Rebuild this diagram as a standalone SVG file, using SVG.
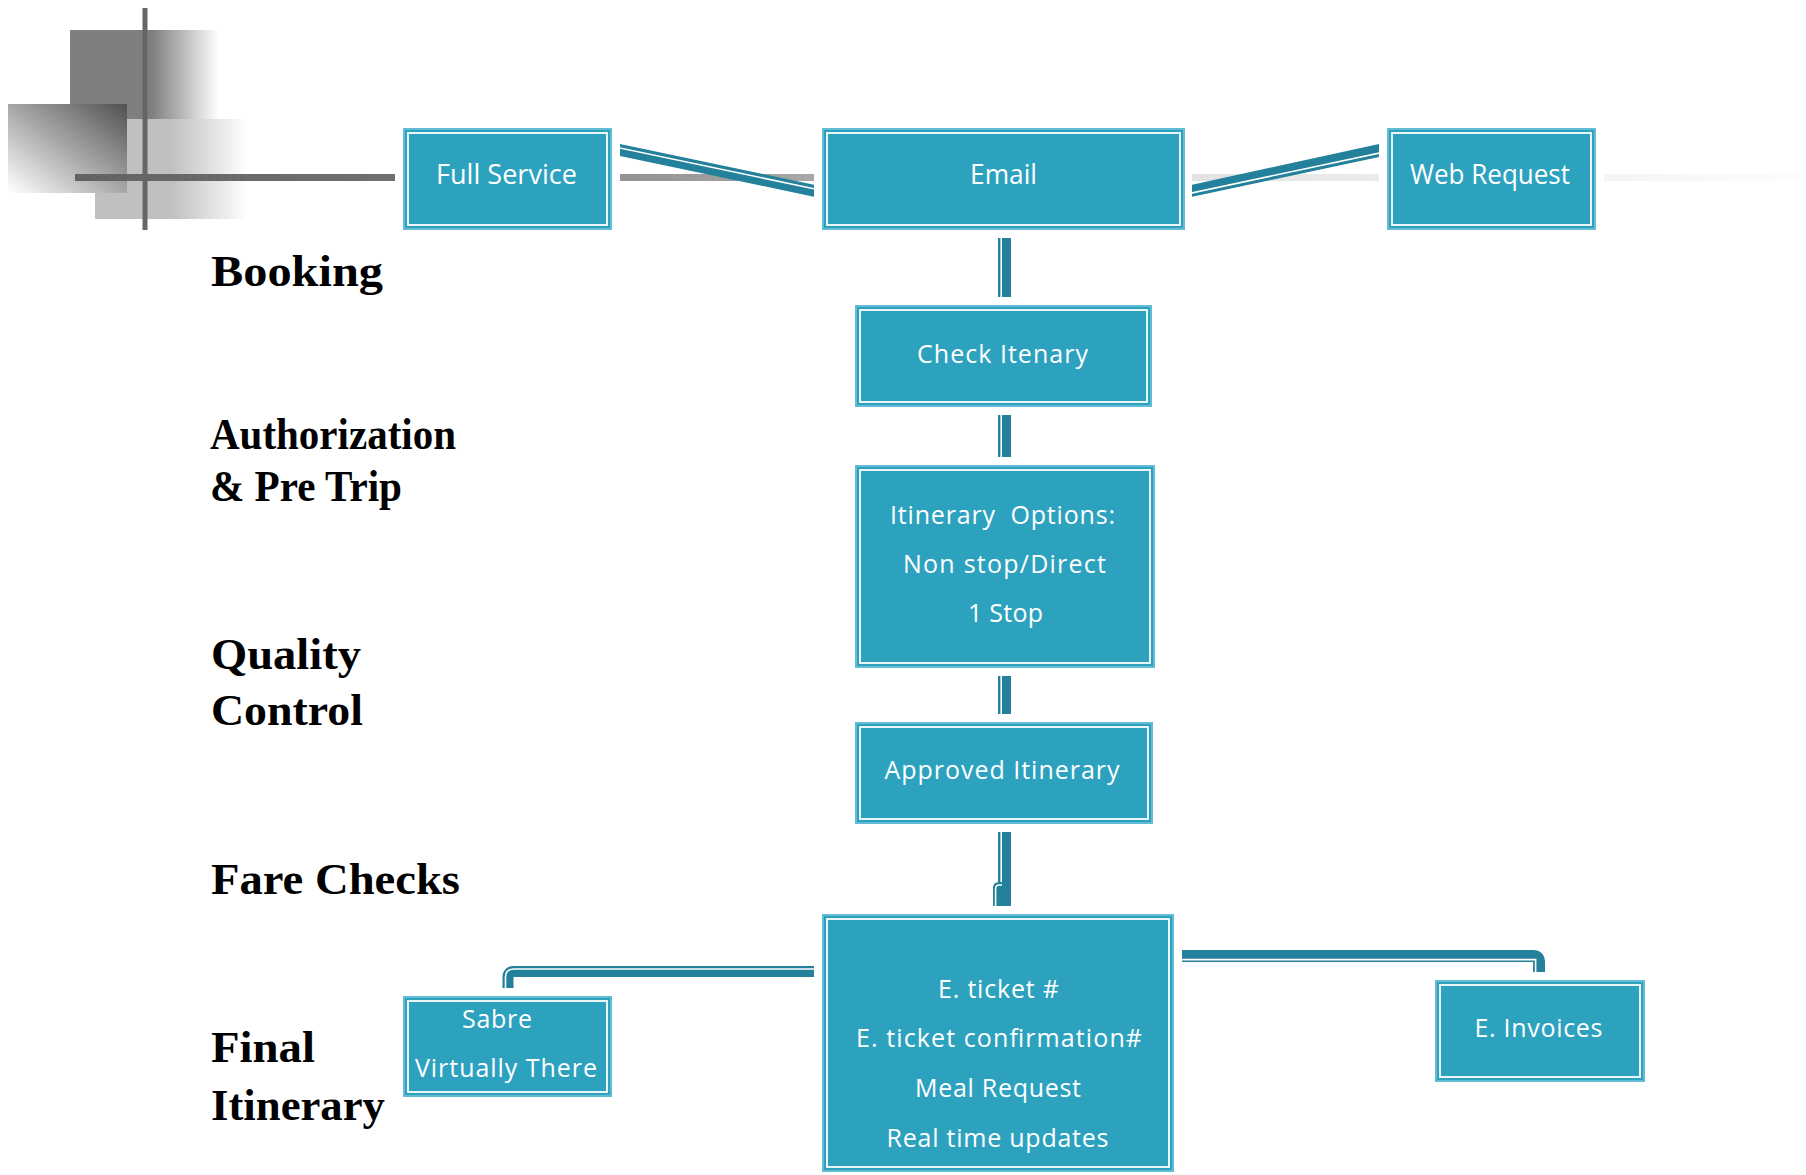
<svg xmlns="http://www.w3.org/2000/svg" width="1806" height="1175" viewBox="0 0 1806 1175">
<defs>
<linearGradient id="gDark" x1="0" y1="0" x2="1" y2="0"><stop offset="0" stop-color="#7f7f7f"/><stop offset="0.55" stop-color="#7f7f7f"/><stop offset="1" stop-color="#ffffff"/></linearGradient>
<linearGradient id="gLight" x1="0" y1="0" x2="1" y2="0"><stop offset="0" stop-color="#c0c0c0"/><stop offset="0.5" stop-color="#c0c0c0"/><stop offset="1" stop-color="#ffffff"/></linearGradient>
<linearGradient id="gDiag" x1="1" y1="0" x2="0" y2="1"><stop offset="0" stop-color="#505050"/><stop offset="1" stop-color="#ffffff"/></linearGradient>
<linearGradient id="gLine" gradientUnits="userSpaceOnUse" x1="75" y1="0" x2="1806" y2="0">
<stop offset="0" stop-color="#636363"/><stop offset="0.185" stop-color="#707070"/><stop offset="0.315" stop-color="#939393"/><stop offset="0.43" stop-color="#a9a9a9"/><stop offset="0.645" stop-color="#e2e2e2"/><stop offset="0.754" stop-color="#ececec"/><stop offset="0.88" stop-color="#f4f4f4"/><stop offset="1" stop-color="#fdfdfd"/>
</linearGradient>
</defs>
<style>
.glow{fill:#ffffff}
.box{fill:#2da2bf;stroke:#62bcd3;stroke-width:2}
.inner{fill:none;stroke:#ffffff;stroke-width:1.8}
.t{fill:#ffffff;font-family:"Open Sans","Noto Sans",sans-serif;font-size:25px;text-anchor:middle}
.tc{fill:#ffffff;font-family:"Open Sans","Noto Sans",sans-serif;font-size:27px;text-anchor:middle}
.lbl{fill:#000000;font-family:"Liberation Serif","DejaVu Serif",serif;font-weight:bold;font-size:45px}
.dk{fill:none;stroke:#23819b;stroke-linejoin:round}
.wl{fill:none;stroke:#ffffff;stroke-width:1.6}
.dkf{fill:#23819b}
.wf{fill:#ffffff}
</style>
<rect width="1806" height="1175" fill="#ffffff"/>
<g id="decoration">
<rect x="70" y="30" width="149" height="89" fill="url(#gDark)"/>
<rect x="95" y="119" width="153" height="100" fill="url(#gLight)"/>
<rect x="8" y="104" width="119" height="89" fill="url(#gDiag)"/>
<rect x="142.5" y="8" width="5" height="222" fill="#666666"/>
<rect x="75" y="174" width="1731" height="7" fill="url(#gLine)"/>
</g>
<g id="connectors">
<polygon class="dkf" points="620,144 815,185 815,197 620,156"/>
<polygon class="wf" points="620,147.2 815,188.2 815,189.8 620,148.8"/>
<polygon class="dkf" points="1191,185 1379,144 1379,157 1191,197"/>
<polygon class="wf" points="1191,192.3 1379,152.3 1379,153.9 1191,193.9"/>
<rect class="dkf" x="998" y="237" width="13" height="60"/>
<rect class="wf" x="1000.4" y="237" width="1.6" height="60"/>
<rect class="dkf" x="998" y="414" width="13" height="44"/>
<rect class="wf" x="1000.4" y="414" width="1.6" height="44"/>
<rect class="dkf" x="998" y="676" width="13" height="39"/>
<rect class="wf" x="1000.4" y="676" width="1.6" height="39"/>
<rect class="dkf" x="998" y="832" width="13" height="52"/>
<rect class="wf" x="1000.4" y="832" width="1.6" height="50"/>
<path class="dkf" d="M993,907 V888 Q993,882 999,882 H1011 V907 Z"/>
<path class="wl" d="M995.6,907 V889 Q995.6,885 999,885 H1002"/>
<path class="dk" stroke-width="11" d="M815,971.5 H514 Q508,971.5 508,977.5 V988"/>
<path class="wl" d="M815,969 H514 Q505.5,969 505.5,977.5 V988"/>
<path class="dk" stroke-width="12" d="M1182,956 H1533 Q1539,956 1539,962 V974"/>
<path class="wl" d="M1182,959.6 H1535.6 V974"/>
</g>
<g id="node-full-service">
<rect class="glow" x="395" y="120" width="225" height="118"/>
<rect class="box" x="404" y="129" width="207" height="100"/>
<rect class="inner" x="408" y="133" width="199" height="92"/>
<text class="tc" x="506.5" y="184" textLength="141" lengthAdjust="spacingAndGlyphs">Full Service</text>
</g>
<g id="node-email">
<rect class="glow" x="814" y="120" width="378" height="118"/>
<rect class="box" x="823" y="129" width="361" height="100"/>
<rect class="inner" x="827" y="133" width="353" height="92"/>
<text class="tc" x="1003.5" y="184" textLength="67" lengthAdjust="spacingAndGlyphs">Email</text>
</g>
<g id="node-web-request">
<rect class="glow" x="1379" y="120" width="225" height="118"/>
<rect class="box" x="1388" y="129" width="207" height="100"/>
<rect class="inner" x="1392" y="133" width="199" height="92"/>
<text class="tc" x="1490" y="184" textLength="160" lengthAdjust="spacingAndGlyphs">Web Request</text>
</g>
<g id="node-check-itenary">
<rect class="glow" x="847" y="297" width="313" height="118"/>
<rect class="box" x="856" y="306" width="295" height="100"/>
<rect class="inner" x="860" y="310" width="287" height="92"/>
<text class="t" x="1002.5" y="363" textLength="171" lengthAdjust="spacing">Check Itenary</text>
</g>
<g id="node-itinerary-options">
<rect class="glow" x="847" y="457" width="316" height="219"/>
<rect class="box" x="856" y="466" width="298" height="201"/>
<rect class="inner" x="860" y="470" width="290" height="193"/>
<text class="t" x="1002.5" y="524" textLength="225" lengthAdjust="spacing" xml:space="preserve">Itinerary  Options:</text>
<text class="t" x="1004.5" y="573" textLength="203" lengthAdjust="spacing">Non stop/Direct</text>
<text class="t" x="1005.5" y="622" textLength="75" lengthAdjust="spacing">1 Stop</text>
</g>
<g id="node-approved-itinerary">
<rect class="glow" x="847" y="714" width="314" height="118"/>
<rect class="box" x="856" y="723" width="296" height="100"/>
<rect class="inner" x="860" y="727" width="288" height="92"/>
<text class="t" x="1002" y="779" textLength="235" lengthAdjust="spacing">Approved Itinerary</text>
</g>
<g id="node-eticket">
<rect class="glow" x="814" y="906" width="368" height="269"/>
<rect class="box" x="823" y="915" width="350" height="256"/>
<rect class="inner" x="827" y="919" width="342" height="248"/>
<text class="t" x="998.5" y="998" textLength="121" lengthAdjust="spacing">E. ticket #</text>
<text class="t" x="999" y="1047" textLength="286" lengthAdjust="spacing">E. ticket confirmation#</text>
<text class="t" x="998" y="1097" textLength="166" lengthAdjust="spacing">Meal Request</text>
<text class="t" x="997.5" y="1147" textLength="222" lengthAdjust="spacing">Real time updates</text>
</g>
<g id="node-sabre">
<rect class="glow" x="395" y="988" width="225" height="117"/>
<rect class="box" x="404" y="997" width="207" height="99"/>
<rect class="inner" x="408" y="1001" width="199" height="91"/>
<text class="t" x="497" y="1028" textLength="70" lengthAdjust="spacing">Sabre</text>
<text class="t" x="506" y="1077" textLength="182" lengthAdjust="spacing">Virtually There</text>
</g>
<g id="node-e-invoices">
<rect class="glow" x="1427" y="972" width="226" height="118"/>
<rect class="box" x="1436" y="981" width="208" height="100"/>
<rect class="inner" x="1440" y="985" width="200" height="92"/>
<text class="t" x="1538.5" y="1037" textLength="128" lengthAdjust="spacing">E. Invoices</text>
</g>
<g id="phase-labels">
<text class="lbl" x="211" y="286" textLength="172" lengthAdjust="spacingAndGlyphs">Booking</text>
<text class="lbl" x="210" y="449" textLength="246" lengthAdjust="spacingAndGlyphs">Authorization</text>
<text class="lbl" x="210" y="501" textLength="192" lengthAdjust="spacingAndGlyphs">&amp; Pre Trip</text>
<text class="lbl" x="211" y="669" textLength="150" lengthAdjust="spacingAndGlyphs">Quality</text>
<text class="lbl" x="211" y="725" textLength="152" lengthAdjust="spacingAndGlyphs">Control</text>
<text class="lbl" x="211" y="894" textLength="249" lengthAdjust="spacingAndGlyphs">Fare Checks</text>
<text class="lbl" x="211" y="1062" textLength="104" lengthAdjust="spacingAndGlyphs">Final</text>
<text class="lbl" x="211" y="1120" textLength="174" lengthAdjust="spacingAndGlyphs">Itinerary</text>
</g>
</svg>
